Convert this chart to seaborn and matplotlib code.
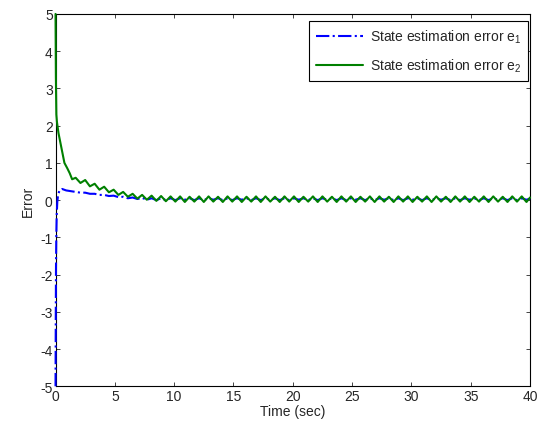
import numpy as np
import pandas as pd
import seaborn as sns
import matplotlib
matplotlib.use("Agg")
import matplotlib.pyplot as plt


"""### Data read off the reference"""

# fast initial transient
t_start_e1 = [0, 0.02, 0.04, 0.07, 0.1, 0.15, 0.22, 0.35, 0.55, 0.9, 1.3]
e1_start = [-5, -3.2, -1.8, -0.9, -0.4, -0.05, 0.15, 0.27, 0.3, 0.26, 0.24]

t_start_e2 = [0, 0.03, 0.07, 0.12, 0.25, 0.5, 0.75, 1.0, 1.2, 1.4]
e2_start = [5, 3.3, 2.3, 2.1, 1.8, 1.4, 1.0, 0.85, 0.72, 0.56]

# peaks / troughs of the ripple afterwards
t_ripple = [1.7, 2.1, 2.5, 2.9, 3.3, 3.7, 4.1, 4.5, 4.9, 5.3,
            5.7, 6.1, 6.5, 6.9, 7.3, 7.7, 8.1, 8.5, 8.9, 9.3,
            9.7, 10.1, 10.5, 10.9, 11.3, 11.7, 12.1, 12.5, 12.9, 13.3,
            13.7, 14.1, 14.5, 14.9, 15.3, 15.7, 16.1, 16.5, 16.9, 17.3,
            17.7, 18.1, 18.5, 18.9, 19.3, 19.7, 20.1, 20.5, 20.9, 21.3,
            21.7, 22.1, 22.5, 22.9, 23.3, 23.7, 24.1, 24.5, 24.9, 25.3,
            25.7, 26.1, 26.5, 26.9, 27.3, 27.7, 28.1, 28.5, 28.9, 29.3,
            29.7, 30.1, 30.5, 30.9, 31.3, 31.7, 32.1, 32.5, 32.9, 33.3,
            33.7, 34.1, 34.5, 34.9, 35.3, 35.7, 36.1, 36.5, 36.9, 37.3,
            37.7, 38.1, 38.5, 38.9, 39.3, 39.7, 40.0]

e1_ripple = [0.22, 0.20, 0.20, 0.17, 0.17, 0.14, 0.14, 0.11, 0.12, 0.08,
             0.09, 0.05, 0.07, 0.03, 0.06, 0.01, 0.05, 0.00, 0.05, 0.00,
             0.05, 0.00, 0.05, 0.01, 0.05, 0.00, 0.05, 0.00, 0.05, 0.01,
             0.05, 0.00, 0.05, 0.00, 0.05, 0.01, 0.05, 0.00, 0.05, 0.00,
             0.05, 0.01, 0.05, 0.00, 0.05, 0.00, 0.05, 0.01, 0.05, 0.00,
             0.05, 0.00, 0.05, 0.01, 0.05, 0.00, 0.05, 0.00, 0.05, 0.01,
             0.05, 0.00, 0.05, 0.00, 0.05, 0.01, 0.05, 0.00, 0.05, 0.00,
             0.05, 0.01, 0.05, 0.00, 0.05, 0.00, 0.05, 0.01, 0.05, 0.00,
             0.05, 0.00, 0.05, 0.01, 0.05, 0.00, 0.05, 0.00, 0.05, 0.01,
             0.05, 0.00, 0.05, 0.00, 0.05, 0.01, 0.04]

e2_ripple = [0.60, 0.46, 0.54, 0.37, 0.44, 0.28, 0.36, 0.21, 0.28, 0.14,
             0.22, 0.09, 0.17, 0.04, 0.14, 0.01, 0.12, -0.02, 0.11, -0.03,
             0.10, -0.04, 0.10, -0.05, 0.09, -0.04, 0.10, -0.05, 0.10, -0.04,
             0.09, -0.05, 0.10, -0.04, 0.10, -0.05, 0.09, -0.04, 0.10, -0.05,
             0.10, -0.04, 0.09, -0.05, 0.10, -0.04, 0.10, -0.05, 0.09, -0.04,
             0.10, -0.05, 0.10, -0.04, 0.09, -0.05, 0.10, -0.04, 0.10, -0.05,
             0.09, -0.04, 0.10, -0.05, 0.10, -0.04, 0.09, -0.05, 0.10, -0.04,
             0.10, -0.05, 0.09, -0.04, 0.10, -0.05, 0.10, -0.04, 0.09, -0.05,
             0.10, -0.04, 0.10, -0.05, 0.09, -0.04, 0.10, -0.05, 0.10, -0.04,
             0.09, -0.05, 0.10, -0.04, 0.10, -0.05, 0.07]

x_ticks = [0, 5, 10, 15, 20, 25, 30, 35, 40]
y_ticks = [-5, -4, -3, -2, -1, 0, 1, 2, 3, 4, 5]

df1 = pd.DataFrame({"t": t_start_e1 + t_ripple, "e": e1_start + e1_ripple})
df2 = pd.DataFrame({"t": t_start_e2 + t_ripple, "e": e2_start + e2_ripple})

"""### Plot"""

sns.set_style("ticks")
plt.rcParams['font.family'] = ['Liberation Sans', 'DejaVu Sans']
plt.rcParams['mathtext.fontset'] = 'custom'
plt.rcParams['mathtext.rm'] = 'Liberation Sans'
plt.rcParams['mathtext.it'] = 'Liberation Sans'
plt.rcParams['axes.unicode_minus'] = False

fs = 10

fig = plt.figure(figsize=(5.47, 4.27), dpi=100)
ax = fig.add_axes([0.1015, 0.093, 0.8675, 0.872])

sns.lineplot(data=df1, x="t", y="e", ax=ax, sort=False, estimator=None,
             color=(0, 0, 1), linestyle="-.", linewidth=1.5,
             label=r"State estimation error e$_1$")
sns.lineplot(data=df2, x="t", y="e", ax=ax, sort=False, estimator=None,
             color=(0, 0.5, 0), linestyle="-", linewidth=1.5,
             label=r"State estimation error e$_2$")
# the jump at t=0 sits on the left spine, draw the curves above it
for ln in ax.get_lines():
    ln.set_zorder(3)
    ln.set_clip_on(False)

ax.set_xlim(0, 40)
ax.set_ylim(-5, 5)
ax.set_xticks(x_ticks)
ax.set_yticks(y_ticks)
ax.tick_params(direction="in", top=True, right=True, labelsize=fs,
               length=3, width=0.6, pad=2)
for s in ax.spines.values():
    s.set_linewidth(0.8)
    s.set_color("black")
ax.set_xlabel("Time (sec)", fontsize=fs, labelpad=1)
ax.set_ylabel("Error", fontsize=fs, labelpad=4)

leg = ax.legend(loc="upper right", bbox_to_anchor=(0.996, 0.981),
                fontsize=fs, frameon=True, fancybox=False,
                edgecolor="black", framealpha=1, borderaxespad=0,
                handlelength=3.4, handletextpad=0.5, borderpad=0.5,
                labelspacing=0.8)
leg.get_frame().set_linewidth(0.8)

fig.savefig("out.png", dpi=100)
